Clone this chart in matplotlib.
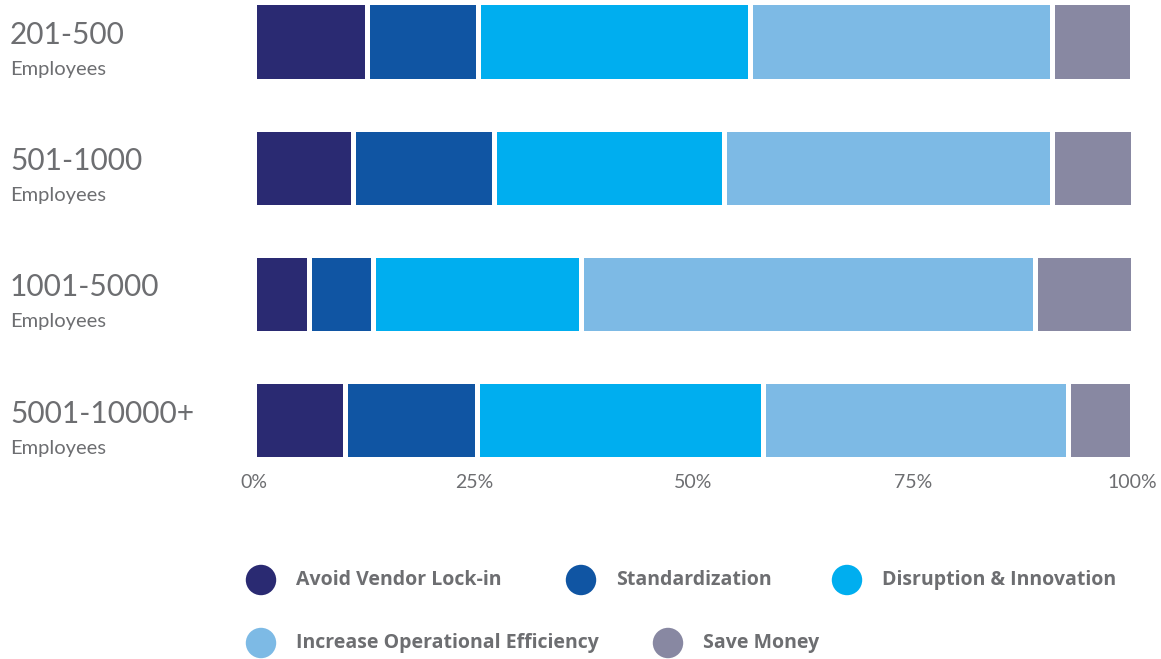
import numpy as np
import matplotlib
matplotlib.use("Agg")
import matplotlib.pyplot as plt

# data (percent of respondents)
groups = ["201-500", "501-1000", "1001-5000", "5001-10000+"]
sub_label = "Employees"
series = ["Avoid Vendor Lock-in", "Standardization", "Disruption & Innovation",
          "Increase Operational Efficiency", "Save Money"]
vendor_lockin = [12.8, 11.2, 6.2, 10.35]
standardization = [12.7, 16.1, 7.3, 15.05]
disruption = [31.0, 26.15, 23.7, 32.55]
efficiency = [34.3, 37.4, 51.7, 34.75]
save_money = [9.2, 9.15, 11.1, 7.3]
xticks = [0, 25, 50, 75, 100]
xtick_labels = ["0%", "25%", "50%", "75%", "100%"]

colors = ["#2a2a72", "#1055a3", "#00aeef", "#7dbae5", "#8888a2"]
grey = "#6d6e71"

plt.rcParams['font.family'] = ['Lato', 'DejaVu Sans']

W, H = 1161, 659
fig = plt.figure(figsize=(W / 100, H / 100), dpi=100)

# axes in pixel terms (widened by half the white edge)
x0, x1 = 254.2, 1132.5
top, bottom = 0.0, 460.0
ax = fig.add_axes([x0 / W, 1 - bottom / H, (x1 - x0) / W, (bottom - top) / H])

pitch = 126.2
c0 = 41.5
ax.set_ylim((bottom - c0) / pitch, (top - c0) / pitch)
ax.set_xlim(0, 100)

values = [vendor_lockin, standardization, disruption, efficiency, save_money]
y = np.arange(len(groups))
left = np.zeros(len(groups))
for name, vals, col in zip(series, values, colors):
    ax.barh(y, vals, left=left, height=0.62, color=col, edgecolor="white",
            linewidth=3.6, label=name)
    left += np.array(vals)

for s in ax.spines.values():
    s.set_visible(False)
ax.set_yticks([])
ax.set_xticks(xticks)
ax.set_xticklabels(xtick_labels, fontsize=14, color=grey)
ax.tick_params(axis="x", length=0, pad=10)

# group labels on the left
for i, g in enumerate(groups):
    ax.annotate(g, xy=(10 / W, i + 2.5 / pitch), xycoords=("figure fraction", "data"),
                fontsize=21.5, color=grey, va="baseline", ha="left",
                annotation_clip=False)
    ax.annotate(sub_label, xy=(10 / W, i + 33.5 / pitch), xycoords=("figure fraction", "data"),
                fontsize=14.5, color=grey, va="baseline", ha="left",
                annotation_clip=False)

# legend, laid out as in the original (two rows, flowing)
lax = fig.add_axes([0, 0, 1, 1])
lax.set_xlim(0, W)
lax.set_ylim(H, 0)
lax.axis("off")
legend_pos = [(261, 580), (581, 580), (847, 580), (261, 643), (668, 643)]
for (px, py), name, col in zip(legend_pos, series, colors):
    lax.scatter([px], [py], s=480, color=col, edgecolor="none")
    lax.text(px + 35, py, name, fontsize=14, fontweight="bold", color=grey,
             va="center", ha="left", family=["Open Sans", "DejaVu Sans"])

fig.savefig("out.png", dpi=100)
